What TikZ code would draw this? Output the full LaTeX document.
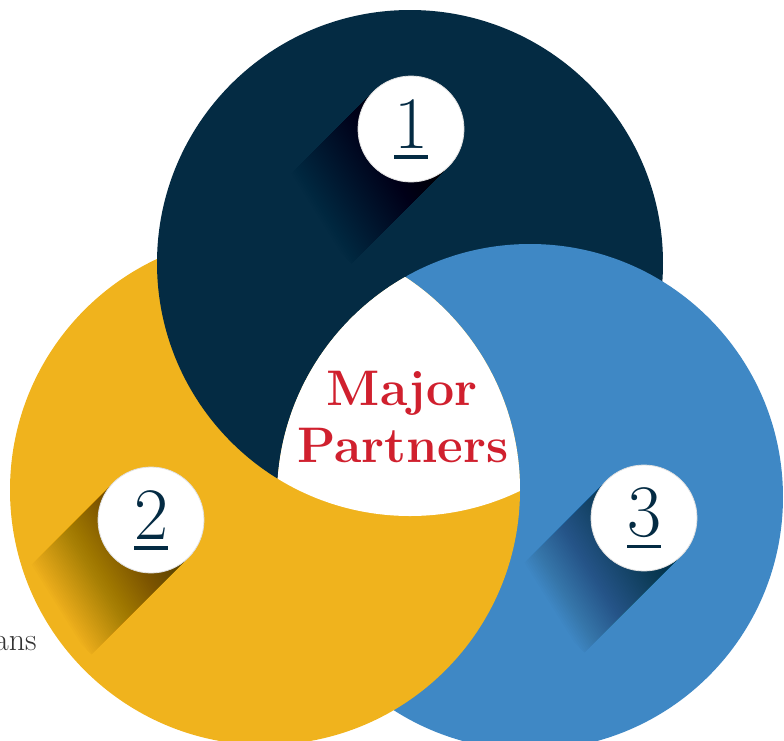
\documentclass[tikz,border=0pt]{standalone}
\usetikzlibrary{calc}

\definecolor{navy}{HTML}{042B43}
\definecolor{gold}{HTML}{F0B31D}
\definecolor{sky}{HTML}{3F88C5}
\definecolor{crimson}{HTML}{D0202E}

\newcommand{\ulnum}[1]{\setbox0\hbox{#1}\vtop{\copy0\kern3.5pt\hrule width\wd0 height1.8pt}}

\begin{document}
\begin{tikzpicture}[x=0.5pt,y=-0.5pt,
    disc/.style={circle,fill=white,draw=black!12,line width=0.4pt,minimum size=53pt,inner sep=0pt,text=navy,font=\fontsize{37}{40}\selectfont},
    shadow/.style={fill=black,opacity=0.01},
    title/.style={text=crimson,font=\fontsize{25}{28}\bfseries\selectfont,anchor=base,inner sep=0pt}]
    \useasboundingbox (0,0) rectangle (784,741);

    \coordinate (c1) at (410,263);
    \coordinate (c2) at (265,490);
    \coordinate (c3) at (530,497);
    \coordinate (d1) at (411,129);
    \coordinate (d2) at (151,520);
    \coordinate (d3) at (644,518);

    % the three rings
    \fill[navy] (c1) circle (253);
    \fill[sky] (c3) circle (253);
    \fill[gold] (c2) circle (255);
    \begin{scope}[even odd rule]
      \clip (c2) circle (256.5);
      \clip (-20,-20) rectangle (820,780) (c3) circle (253);
      \fill[navy] (c1) circle (253);
    \end{scope}
    \begin{scope}
      \clip (c1) circle (253);
      \clip (c3) circle (253);
      \fill[white] (c2) circle (255);
    \end{scope}

    % long shadows, stacked half planes
    \foreach \d/\c/\rr in {d1/c1/253, d2/c2/255, d3/c3/253} {
      \begin{scope}
        \clip (\c) circle (\rr);
        \clip ($(\d)+(-37.5,-37.5)$) -- ++(-97,97) -- ++(75,75) -- ++(97,-97) -- cycle;
        \begin{scope}[shift={(\d)},rotate=32]
          \foreach \k [evaluate=\k as \t using -125+2*\k] in {0,...,68}
            \fill[shadow] (\t,-300) rectangle (300,300);
        \end{scope}
      \end{scope}
    }

    \node[disc] (n1) at (d1) {\ulnum{1}};
    \node[disc] (n2) at (d2) {\ulnum{2}};
    \node[disc] (n3) at (d3) {\ulnum{3}};

    \node[title] (maj) at (402,405) {Major};
    \node[title] (par) at (403,462) {Partners};
    \node[anchor=base east,inner sep=0pt,text=black!80,font=\fontsize{16}{18}\selectfont] (frag) at (37,650) {ans};
\end{tikzpicture}
\end{document}
